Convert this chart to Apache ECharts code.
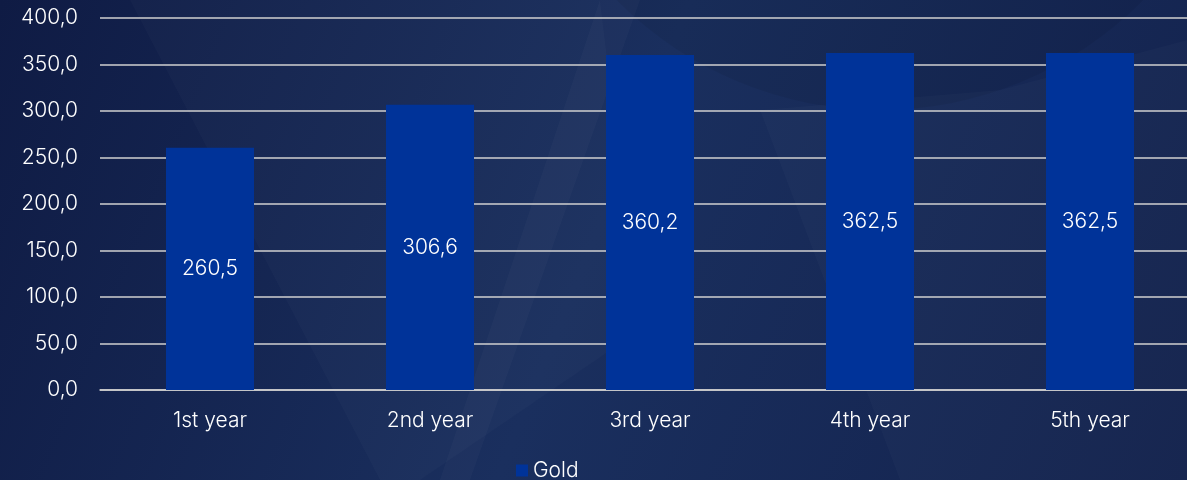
<!DOCTYPE html>
<html><head><meta charset="utf-8">
<script src="https://cdn.jsdelivr.net/npm/echarts@6/dist/echarts.min.js"></script>
<style>html,body{margin:0;padding:0;background:#13224d}#c{width:1187px;height:480px}</style>
</head><body><div id="c"></div>
<script>
const categories = ['1st year','2nd year','3rd year','4th year','5th year'];
const goldValues = [260.5, 306.6, 360.2, 362.5, 362.5];
const seriesName = 'Gold';

const chart = echarts.init(document.getElementById('c'));
const fmt = v => v.toFixed(1).replace('.', ',');
const font = {fontFamily: 'Inter', fontWeight: 300, fontSize: 21, color: '#ffffff'};
chart.setOption({
  backgroundColor: {
    type: 'linear', x: 0, y: 0, x2: 1, y2: 1,
    colorStops: [{offset: 0, color: '#0f1b44'}, {offset: 0.5, color: '#1a2f5e'}, {offset: 1, color: '#13224d'}]
  },
  graphic: [
    {type: 'polygon', silent: true, z: -1, shape: {points: [[130,0],[600,0],[640,330],[420,480],[380,480]]}, style: {fill: 'rgba(255,255,255,0.02)'}},
    {type: 'polygon', silent: true, z: -1, shape: {points: [[600,0],[640,0],[470,480],[440,480]]}, style: {fill: 'rgba(255,255,255,0.025)'}},
    {type: 'circle', silent: true, z: -1, shape: {cx: 880, cy: -260, r: 370}, style: {fill: 'rgba(0,0,0,0.06)'}},
    {type: 'polygon', silent: true, z: -1, shape: {points: [[1187,40],[1187,480],[900,480],[760,110],[1000,90]]}, style: {fill: 'rgba(255,255,255,0.02)'}}
  ],
  grid: {left: 100, top: 18, right: -13, bottom: 90, containLabel: false, outerBoundsMode: 'none'},
  legend: {
    top: 455, left: 511, itemWidth: 12, itemHeight: 12, icon: 'rect', itemGap: 5,
    textStyle: font,
    data: [seriesName]
  },
  xAxis: {
    type: 'category', data: categories,
    axisLine: {lineStyle: {color: '#d0d0d0', width: 1.5}},
    axisTick: {show: false},
    axisLabel: Object.assign({margin: 20}, font)
  },
  yAxis: {
    type: 'value', min: 0, max: 400, interval: 50,
    axisLine: {show: false}, axisTick: {show: false},
    splitLine: {lineStyle: {color: '#d0d0d0', width: 1.5}},
    axisLabel: Object.assign({margin: 22, formatter: fmt}, font)
  },
  series: [{
    name: seriesName, type: 'bar', data: goldValues, barCategoryGap: '60%',
    itemStyle: {color: '#003399'},
    label: Object.assign({show: true, position: 'inside', formatter: p => fmt(p.value)}, font)
  }]
});
</script></body></html>
